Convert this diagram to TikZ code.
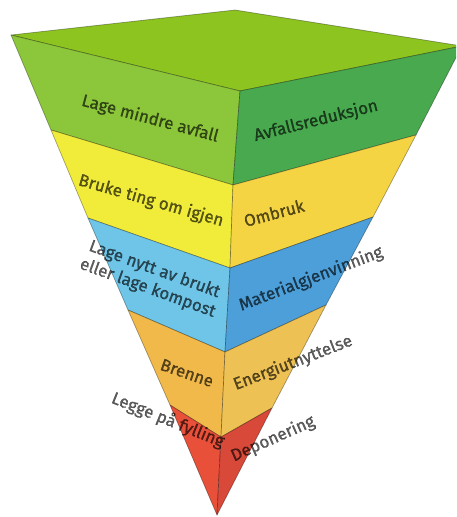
\documentclass[tikz,border=0pt]{standalone}
\usepackage{fontspec}
\setmainfont{Fira Sans}
\newfontfamily\facefont{Fira Sans}[FakeBold=0.9]
\definecolor{topgreen}{HTML}{8DC41F}
\definecolor{leftgreen}{HTML}{8CC63A}
\definecolor{rightgreen}{HTML}{48A94F}
\definecolor{leftyellow}{HTML}{F1EC3A}
\definecolor{rightyellow}{HTML}{F5D443}
\definecolor{leftblue}{HTML}{6EC5E8}
\definecolor{rightblue}{HTML}{4C9FD8}
\definecolor{leftorange}{HTML}{F0B94A}
\definecolor{rightorange}{HTML}{EDC153}
\definecolor{leftred}{HTML}{E8503A}
\definecolor{rightred}{HTML}{D9493A}

\begin{document}
\begin{tikzpicture}[
  x=1pt,
  y=-1pt,
  face/.style={draw=black, draw opacity=0.35, line width=0.7pt,
               line join=round},
  facetext/.style={font=\facefont\fontsize{17}{20}\selectfont, text=black,
               text opacity=0.62, inner sep=0pt, align=center},
  lefttext/.style={facetext},
  righttext/.style={facetext}
]
  \path[use as bounding box] (0,0) rectangle (456,517);
  \clip (0,0) rectangle (456,517);

  % ---- corners of the funnel -------------------------------------------
  \coordinate (back)  at (235,10);
  \coordinate (left)  at (11,35);
  \coordinate (front) at (240,91);
  \coordinate (right) at (462,46);
  % band limits, left edge / front edge / right edge, top to bottom
  \coordinate (l1) at (51,130);  \coordinate (c1) at (233,185);  \coordinate (r1) at (416,135);
  \coordinate (l2) at (88,218);  \coordinate (c2) at (230,268);  \coordinate (r2) at (373,217);
  \coordinate (l3) at (128,310); \coordinate (c3) at (225,352);  \coordinate (r3) at (326,305);
  \coordinate (l4) at (170,405); \coordinate (c4) at (221,437);  \coordinate (r4) at (272,408);
  \coordinate (apex) at (217,515);

  % ---- faces -----------------------------------------------------------
  \filldraw[face, fill=topgreen] (back) -- (left) -- (front) -- (right) -- cycle;

  \filldraw[face, fill=leftgreen]  (left) -- (front) -- (c1) -- (l1) -- cycle;
  \filldraw[face, fill=rightgreen] (front) -- (right) -- (r1) -- (c1) -- cycle;

  \filldraw[face, fill=leftyellow]  (l1) -- (c1) -- (c2) -- (l2) -- cycle;
  \filldraw[face, fill=rightyellow] (c1) -- (r1) -- (r2) -- (c2) -- cycle;

  \filldraw[face, fill=leftblue]  (l2) -- (c2) -- (c3) -- (l3) -- cycle;
  \filldraw[face, fill=rightblue] (c2) -- (r2) -- (r3) -- (c3) -- cycle;

  \filldraw[face, fill=leftorange]  (l3) -- (c3) -- (c4) -- (l4) -- cycle;
  \filldraw[face, fill=rightorange] (c3) -- (r3) -- (r4) -- (c4) -- cycle;

  \filldraw[face, fill=leftred]  (l4) -- (c4) -- (apex) -- cycle;
  \filldraw[face, fill=rightred] (c4) -- (r4) -- (apex) -- cycle;

  % ---- what to do, left faces ------------------------------------------
  \node[lefttext, rotate=-15] (reduce)   at (150,119) {Lage mindre avfall};
  \node[lefttext, rotate=-16] (reuse)    at (151,201) {Bruke ting om igjen};
  \node[lefttext, rotate=-20] (recycle)  at (151,279) {Lage nytt av brukt\\eller lage kompost};
  \node[lefttext, rotate=-19] (burn)     at (187,373) {Brenne};
  \node[lefttext, rotate=-22] (landfill) at (168,420) {Legge på fylling};

  % ---- what it is called, right faces ----------------------------------
  \node[righttext, rotate=14] (reduction) at (316,121) {Avfallsreduksjon};
  \node[righttext, rotate=15] (ombruk)    at (274,213) {Ombruk};
  \node[righttext, rotate=21] (material)  at (311,279) {Materialgjenvinning};
  \node[righttext, rotate=21] (energy)    at (293,363) {Energiutnyttelse};
  \node[righttext, rotate=24] (deposit)   at (273,439) {Deponering};
\end{tikzpicture}
\end{document}
